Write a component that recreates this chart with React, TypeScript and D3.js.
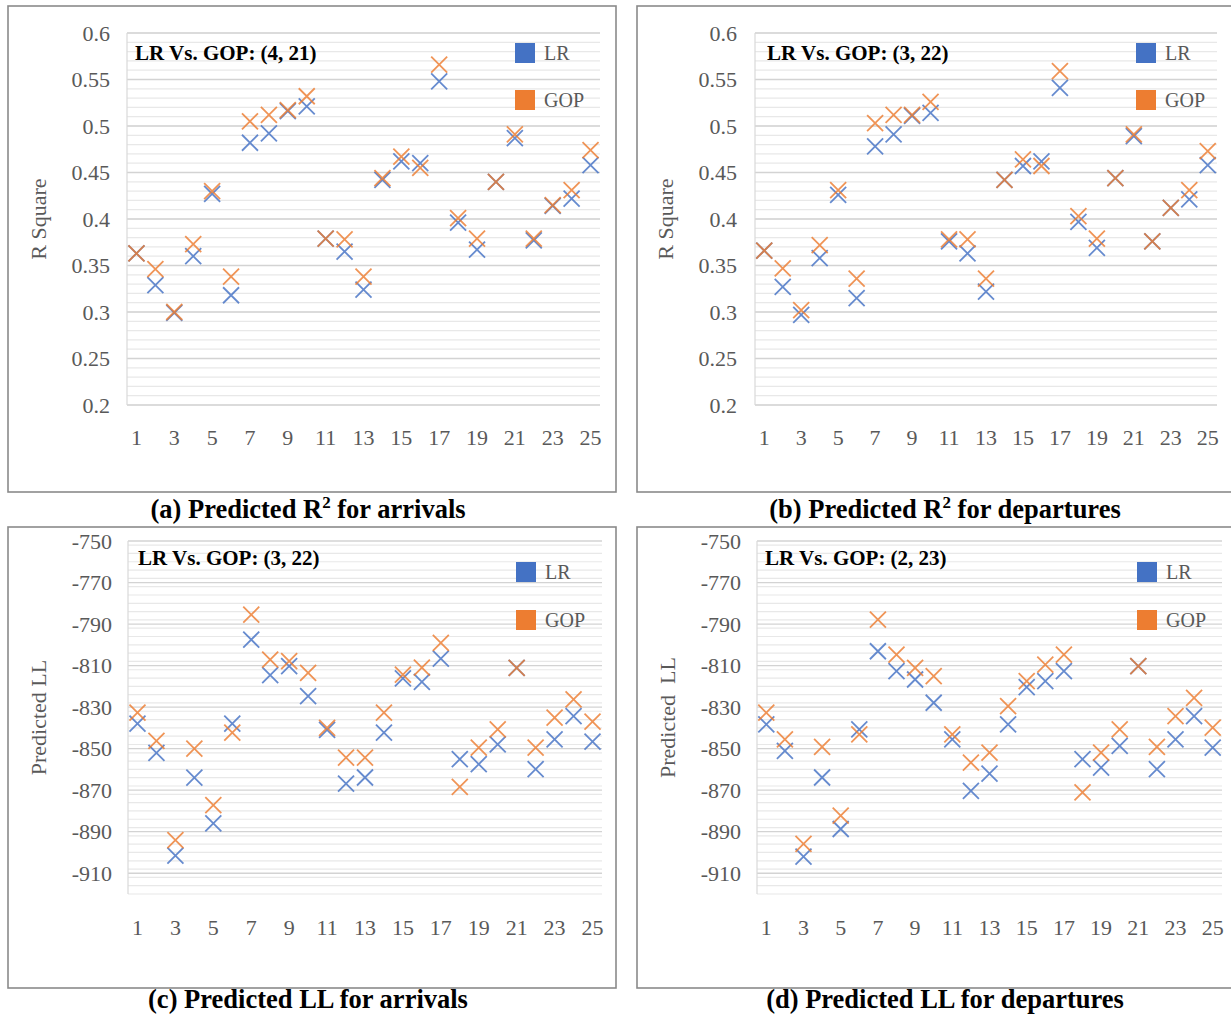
import React from "react";
import * as d3 from "d3";

// ---------- data ----------
const categories = ["1","2","3","4","5","6","7","8","9","10","11","12","13","14","15","16","17","18","19","20","21","22","23","24","25"];
const xTickLabels = ["1","3","5","7","9","11","13","15","17","19","21","23","25"];

const arrR2LR = [0.363,0.329,0.299,0.360,0.427,0.318,0.482,0.492,0.516,0.521,0.379,0.365,0.324,0.442,0.462,0.460,0.548,0.396,0.367,0.440,0.487,0.377,0.414,0.422,0.458];
const arrR2GOP = [0.363,0.346,0.300,0.373,0.430,0.338,0.505,0.512,0.517,0.532,0.379,0.378,0.338,0.444,0.467,0.455,0.566,0.401,0.379,0.440,0.491,0.379,0.415,0.431,0.474];

const depR2LR = [0.366,0.327,0.297,0.358,0.426,0.315,0.478,0.491,0.511,0.514,0.376,0.363,0.322,0.442,0.457,0.462,0.541,0.397,0.369,0.444,0.489,0.376,0.412,0.421,0.458];
const depR2GOP = [0.366,0.347,0.302,0.372,0.431,0.336,0.503,0.512,0.512,0.526,0.378,0.378,0.336,0.442,0.464,0.457,0.559,0.403,0.379,0.444,0.491,0.376,0.412,0.431,0.473];

const arrLLLR = [-838.0,-852.0,-901.5,-864.0,-886.0,-838.0,-797.5,-814.6,-810.3,-824.7,-841.0,-866.8,-863.9,-842.3,-816.2,-817.8,-806.6,-855.1,-857.5,-847.9,-811.1,-859.9,-845.5,-834.3,-846.6];
const arrLLGOP = [-832.7,-846.3,-894.0,-850.0,-877.2,-842.3,-785.5,-807.1,-807.9,-813.5,-840.0,-854.3,-854.3,-832.7,-814.3,-811.0,-799.1,-868.4,-849.5,-840.7,-811.1,-849.5,-835.1,-826.3,-837.0];

const depLLLR = [-838.3,-851.1,-902.0,-863.9,-888.7,-840.7,-803.1,-812.7,-816.7,-827.9,-845.5,-870.3,-862.0,-838.3,-820.4,-817.5,-812.7,-855.1,-859.1,-848.7,-810.3,-859.9,-845.5,-834.3,-849.5];
const depLLGOP = [-832.7,-845.5,-895.9,-849.2,-882.3,-843.1,-787.9,-804.7,-811.1,-815.1,-843.1,-856.7,-851.9,-829.5,-817.5,-809.5,-804.7,-871.1,-851.9,-840.7,-810.3,-849.2,-834.3,-825.5,-839.9];

const r2Ticks = [0.6,0.55,0.5,0.45,0.4,0.35,0.3,0.25,0.2];
const r2TickLabels = ["0.6","0.55","0.5","0.45","0.4","0.35","0.3","0.25","0.2"];
const llTicks = [-750,-770,-790,-810,-830,-850,-870,-890,-910];
const llTickLabels = ["-750","-770","-790","-810","-830","-850","-870","-890","-910"];

const seriesNames = ["LR", "GOP"];
const seriesColors = ["#4472C4", "#ED7D31"];

const SERIF = "'Liberation Serif', 'Times New Roman', serif";

type PanelProps = {
  box: { x: number; y: number; w: number; h: number };
  plot: { l: number; r: number; t: number; b: number };
  domain: [number, number];
  ticks: number[];
  tickLabels: string[];
  minorStep: number;
  lr: number[];
  gop: number[];
  yTitle: string;
  yTitleX: number;
  yLabelX: number;
  xLabelY: number;
  title: string;
  titleX: number;
  titleY: number;
  legendX: number;
  legendY1: number;
  legendY2: number;
};

function Cross({ x, y, color }: { x: number; y: number; color: string }) {
  const s = 8;
  return (
    <path
      d={`M${x - s},${y - s}L${x + s},${y + s}M${x - s},${y + s}L${x + s},${y - s}`}
      stroke={color}
      strokeWidth={1.8}
      strokeOpacity={0.82}
      fill="none"
    />
  );
}

function Panel(p: PanelProps) {
  const x = d3.scaleBand<string>().domain(categories).range([p.plot.l, p.plot.r]).padding(0);
  const y = d3.scaleLinear().domain(p.domain).range([p.plot.b, p.plot.t]);
  const cx = (c: string) => (x(c) as number) + x.bandwidth() / 2;
  const minor = d3.range(p.domain[0], p.domain[1] + p.minorStep / 2, p.minorStep);
  const yMid = (p.plot.t + p.plot.b) / 2;
  return (
    <g>
      <rect x={p.box.x} y={p.box.y} width={p.box.w} height={p.box.h} fill="#fff" stroke="#8a8a8a" strokeWidth={1.6} />
      {minor.map((v, i) => (
        <line key={"m" + i} x1={p.plot.l} x2={p.plot.r} y1={y(v)} y2={y(v)} stroke="#e8e8e8" strokeWidth={1.2} />
      ))}
      {p.ticks.map((v, i) => (
        <line key={"g" + i} x1={p.plot.l} x2={p.plot.r} y1={y(v)} y2={y(v)} stroke="#d3d3d3" strokeWidth={1.3} />
      ))}
      <line x1={p.plot.l} x2={p.plot.l} y1={p.plot.t} y2={p.plot.b} stroke="#d9d9d9" strokeWidth={1.2} />
      {p.ticks.map((v, i) => (
        <text key={"t" + i} x={p.yLabelX} y={y(v)} dy="0.35em" textAnchor="end" fontFamily={SERIF} fontSize={22} fill="#595959">
          {p.tickLabels[i]}
        </text>
      ))}
      {xTickLabels.map((c) => (
        <text key={"x" + c} x={cx(c)} y={p.xLabelY} dy="0.35em" textAnchor="middle" fontFamily={SERIF} fontSize={22} fill="#595959">
          {c}
        </text>
      ))}
      <text
        transform={`translate(${p.yTitleX},${yMid}) rotate(-90)`}
        textAnchor="middle"
        dy="0.35em"
        fontFamily={SERIF}
        fontSize={22}
        fill="#595959"
        style={{ whiteSpace: "pre" }}
      >
        {p.yTitle}
      </text>
      {categories.map((c, i) => (
        <Cross key={"lr" + i} x={cx(c)} y={y(p.lr[i])} color={seriesColors[0]} />
      ))}
      {categories.map((c, i) => (
        <Cross key={"gop" + i} x={cx(c)} y={y(p.gop[i])} color={seriesColors[1]} />
      ))}
      <text x={p.titleX} y={p.titleY} dy="0.35em" fontFamily={SERIF} fontWeight="bold" fontSize={21} fill="#000">
        {p.title}
      </text>
      {[p.legendY1, p.legendY2].map((ly, i) => (
        <g key={"lg" + i}>
          <rect x={p.legendX} y={ly - 10} width={20} height={20} fill={seriesColors[i]} />
          <text x={p.legendX + 29} y={ly} dy="0.35em" fontFamily={SERIF} fontSize={20} fill="#595959">
            {seriesNames[i]}
          </text>
        </g>
      ))}
    </g>
  );
}

function Caption({ x, y, pre, sup, post }: { x: number; y: number; pre: string; sup?: string; post: string }) {
  return (
    <text x={x} y={y} textAnchor="middle" fontFamily={SERIF} fontWeight="bold" fontSize={26.5} fill="#000">
      {pre}
      {sup ? (
        <tspan fontSize={17} dy={-10}>
          {sup}
        </tspan>
      ) : null}
      {sup ? <tspan dy={10}>{post}</tspan> : post}
    </text>
  );
}

export default function App() {
  return (
    <svg width={1231} height={1015} style={{ position: "absolute", left: 0, top: 0, background: "#fff" }}>
      <rect x={0} y={0} width={1231} height={1015} fill="#fff" />
      <Panel
        box={{ x: 8, y: 6, w: 608, h: 486 }}
        plot={{ l: 127, r: 600, t: 33, b: 405 }}
        domain={[0.2, 0.6]}
        ticks={r2Ticks}
        tickLabels={r2TickLabels}
        minorStep={0.01}
        lr={arrR2LR}
        gop={arrR2GOP}
        yTitle="R Square"
        yTitleX={38}
        yLabelX={110}
        xLabelY={437}
        title="LR Vs. GOP: (4, 21)"
        titleX={135}
        titleY={53}
        legendX={515}
        legendY1={53}
        legendY2={100}
      />
      <Panel
        box={{ x: 637, y: 6, w: 620, h: 486 }}
        plot={{ l: 755, r: 1217, t: 33, b: 405 }}
        domain={[0.2, 0.6]}
        ticks={r2Ticks}
        tickLabels={r2TickLabels}
        minorStep={0.01}
        lr={depR2LR}
        gop={depR2GOP}
        yTitle="R Square"
        yTitleX={665}
        yLabelX={737}
        xLabelY={437}
        title="LR Vs. GOP: (3, 22)"
        titleX={767}
        titleY={53}
        legendX={1136}
        legendY1={53}
        legendY2={100}
      />
      <Panel
        box={{ x: 8, y: 527, w: 608, h: 461 }}
        plot={{ l: 128, r: 602, t: 541, b: 894 }}
        domain={[-920, -750]}
        ticks={llTicks}
        tickLabels={llTickLabels}
        minorStep={4}
        lr={arrLLLR}
        gop={arrLLGOP}
        yTitle="Predicted LL"
        yTitleX={38}
        yLabelX={112}
        xLabelY={927}
        title="LR Vs. GOP: (3, 22)"
        titleX={138}
        titleY={558}
        legendX={516}
        legendY1={572}
        legendY2={620}
      />
      <Panel
        box={{ x: 637, y: 527, w: 620, h: 461 }}
        plot={{ l: 757, r: 1222, t: 541, b: 894 }}
        domain={[-920, -750]}
        ticks={llTicks}
        tickLabels={llTickLabels}
        minorStep={4}
        lr={depLLLR}
        gop={depLLGOP}
        yTitle={"Predicted  LL"}
        yTitleX={667}
        yLabelX={741}
        xLabelY={927}
        title="LR Vs. GOP: (2, 23)"
        titleX={765}
        titleY={558}
        legendX={1137}
        legendY1={572}
        legendY2={620}
      />
      <Caption x={308} y={518} pre="(a) Predicted R" sup="2" post=" for arrivals" />
      <Caption x={945} y={518} pre="(b) Predicted R" sup="2" post=" for departures" />
      <Caption x={308} y={1008} pre="(c) Predicted LL for arrivals" post="" />
      <Caption x={945} y={1008} pre="(d) Predicted LL for departures" post="" />
    </svg>
  );
}
